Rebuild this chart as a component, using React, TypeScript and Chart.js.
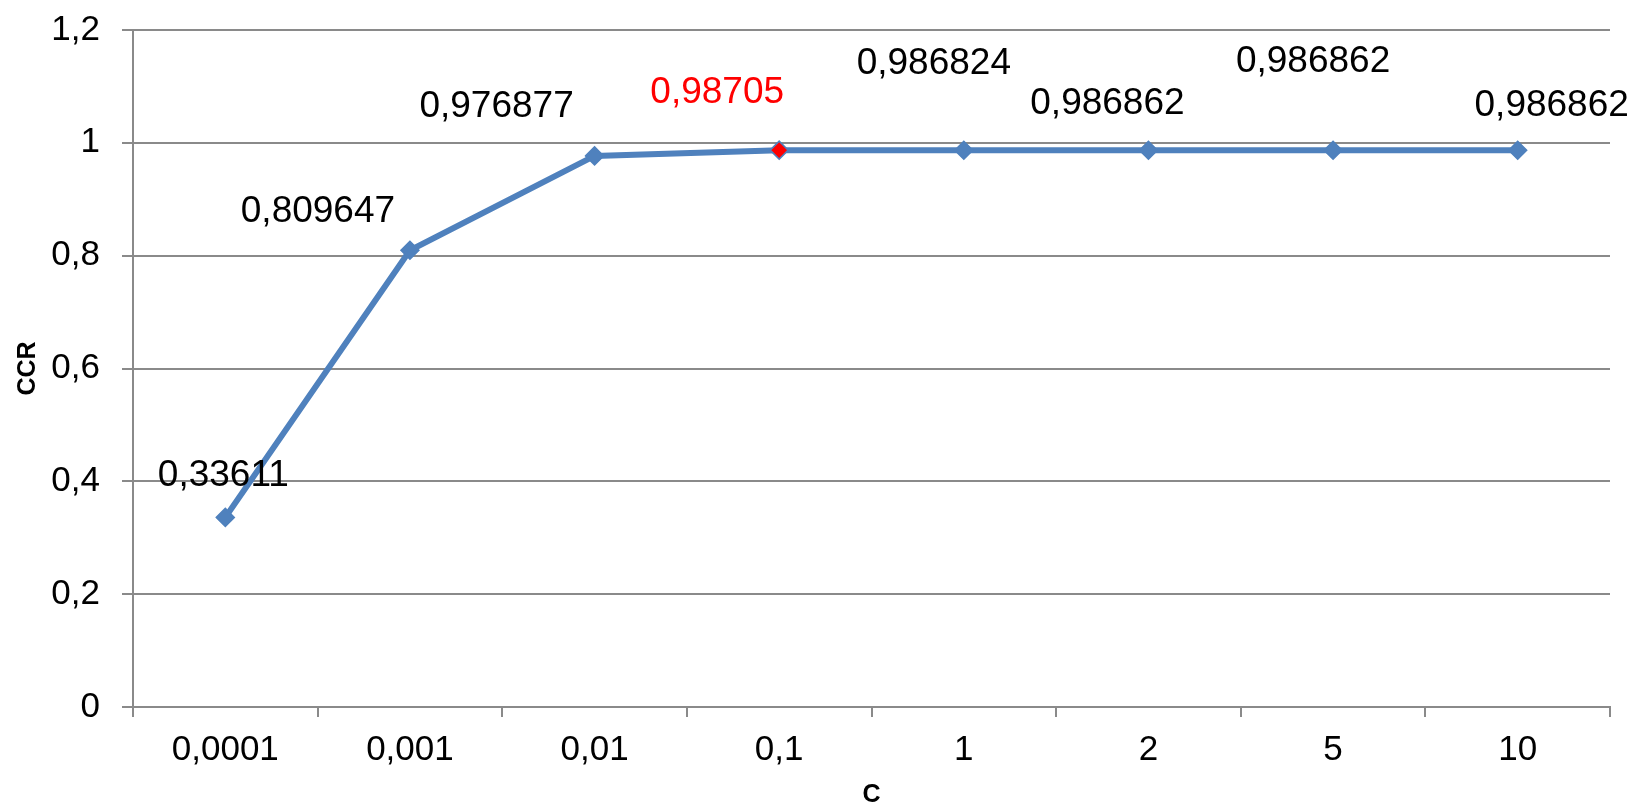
import React, { useEffect, useRef } from "react";
import { Chart, registerables } from "chart.js";

Chart.register(...registerables);

const categories = ["0,0001", "0,001", "0,01", "0,1", "1", "2", "5", "10"];
const ccrValues = [0.33611, 0.809647, 0.976877, 0.98705, 0.986824, 0.986862, 0.986862, 0.986862];
const yTickLabels = ["0", "0,2", "0,4", "0,6", "0,8", "1", "1,2"];
const highlightIndex = 3;
// label placement offsets (px) relative to each point, as in the original chart
const labelDx = [-2, -92, -98, -62, -30, -41, -20, 34];
const labelDy = [-42, -38, -49, -57, -86, -46, -88, -44];

const FONT = "'Liberation Sans', Arial, sans-serif";
const BLUE = "#4F81BD";
const GRID = "#8a8a8a";

const dataLabelPlugin = {
  id: "dataLabels",
  afterDatasetsDraw(chart: any) {
    const ctx = chart.ctx;
    const meta = chart.getDatasetMeta(0);
    ctx.save();
    ctx.font = `37px ${FONT}`;
    ctx.textAlign = "center";
    ctx.textBaseline = "middle";
    meta.data.forEach((pt: any, i: number) => {
      ctx.fillStyle = i === highlightIndex ? "#FF0000" : "#000000";
      const text = String(ccrValues[i]).replace(".", ",");
      ctx.fillText(text, pt.x + labelDx[i], pt.y + labelDy[i]);
    });
    ctx.restore();
  },
};

export default function App() {
  const ref = useRef<HTMLCanvasElement | null>(null);
  useEffect(() => {
    if (!ref.current) return;
    const pointColors = ccrValues.map((_, i) => (i === highlightIndex ? "#FF0000" : BLUE));
    const chart = new Chart(ref.current, {
      type: "line",
      data: {
        labels: categories,
        datasets: [
          {
            data: ccrValues,
            borderColor: BLUE,
            borderWidth: 6,
            tension: 0,
            pointStyle: "rectRot",
            pointRadius: 9,
            pointBorderWidth: 1.5,
            pointBackgroundColor: pointColors,
            pointBorderColor: BLUE,
            pointHoverRadius: 9,
          },
        ],
      },
      options: {
        responsive: false,
        animation: false,
        events: [],
        layout: { padding: { left: 0, top: 30, right: 22, bottom: 0 } },
        plugins: { legend: { display: false }, tooltip: { enabled: false } },
        scales: {
          x: {
            type: "category",
            offset: true,
            grid: {
              display: true,
              drawOnChartArea: false,
              drawTicks: true,
              offset: true,
              tickLength: 10,
              color: GRID,
              lineWidth: 2,
            },
            border: { display: true, color: GRID, width: 2 },
            ticks: {
              color: "#000",
              font: { family: FONT, size: 35 },
              padding: 12,
              maxRotation: 0,
              autoSkip: false,
            },
            title: {
              display: true,
              text: "C",
              color: "#000",
              font: { family: FONT, size: 25, weight: "bold", lineHeight: 0.75 },
              padding: 0,
            },
            afterFit(scale: any) {
              scale.height = 97;
              scale.paddingLeft = 0;
              scale.paddingRight = 0;
            },
          },
          y: {
            min: 0,
            max: 1.2,
            ticks: {
              stepSize: 0.2,
              color: "#000",
              font: { family: FONT, size: 35 },
              padding: 22,
              callback: (_v: any, i: number) => yTickLabels[i],
            },
            grid: {
              color: GRID,
              lineWidth: 2,
              tickLength: 11,
            },
            border: { display: true, color: GRID, width: 2 },
            title: {
              display: true,
              text: "CCR",
              color: "#000",
              font: { family: FONT, size: 25, weight: "bold", lineHeight: 1.2 },
              padding: { top: 13, bottom: 0 },
            },
            afterFit(scale: any) {
              scale.width = 133;
              scale.paddingTop = 0;
              scale.paddingBottom = 0;
            },
          },
        },
      },
      plugins: [dataLabelPlugin],
    });
    return () => chart.destroy();
  }, []);
  return (
    <div style={{ position: "fixed", left: 0, top: 0, width: 1632, height: 804, background: "#fff" }}>
      <canvas ref={ref} width={1632} height={804} style={{ display: "block" }} />
    </div>
  );
}
